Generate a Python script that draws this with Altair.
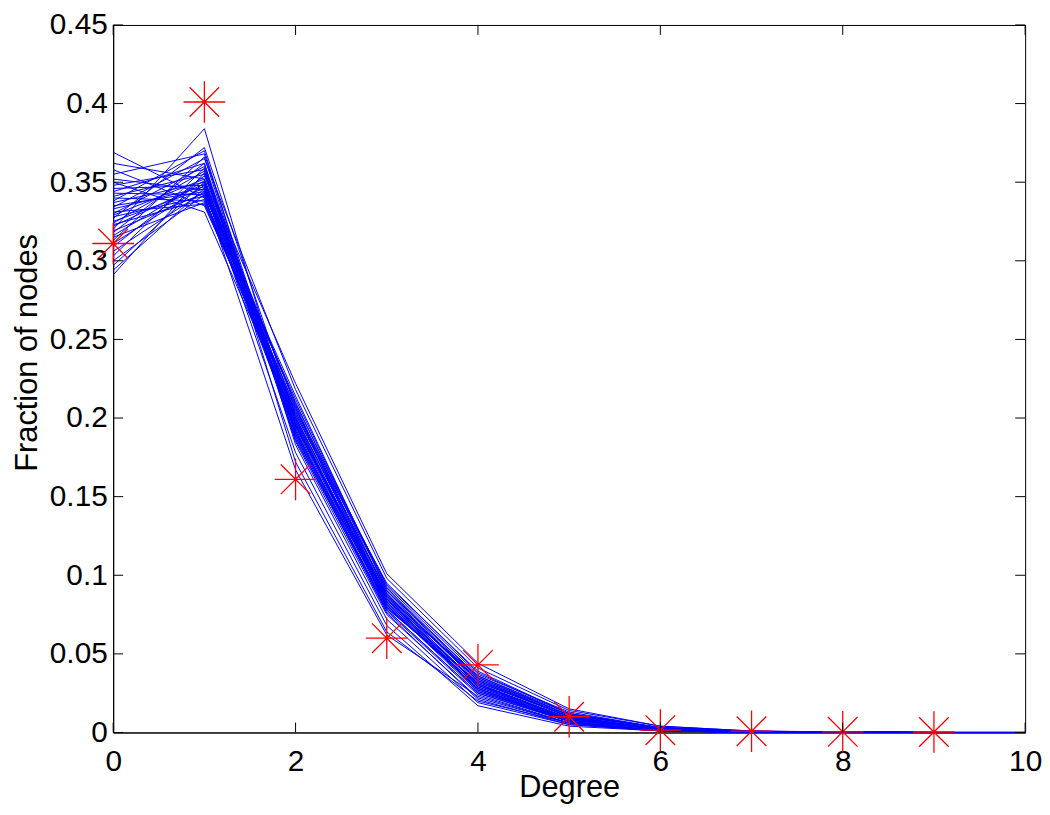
import altair as alt
import pandas as pd

degrees = list(range(11))

deg0 = [0.369, 0.362, 0.358, 0.355, 0.352, 0.350, 0.348, 0.346, 0.344, 0.343,
        0.341, 0.340, 0.338, 0.337, 0.335, 0.334, 0.333, 0.331, 0.330, 0.329,
        0.328, 0.327, 0.325, 0.324, 0.323, 0.322, 0.320, 0.319, 0.318, 0.316,
        0.315, 0.313, 0.311, 0.309, 0.306, 0.303, 0.300, 0.297, 0.294, 0.291]
deg1 = [0.340, 0.352, 0.335, 0.368, 0.345, 0.331, 0.358, 0.348, 0.362, 0.342,
        0.355, 0.338, 0.370, 0.350, 0.344, 0.365, 0.347, 0.336, 0.360, 0.352,
        0.341, 0.372, 0.346, 0.357, 0.339, 0.349, 0.384, 0.343, 0.362, 0.351,
        0.337, 0.366, 0.348, 0.354, 0.344, 0.359, 0.342, 0.350, 0.346, 0.356]
deg2 = [0.195, 0.188, 0.205, 0.192, 0.210, 0.199, 0.185, 0.202, 0.190, 0.214,
        0.197, 0.207, 0.183, 0.200, 0.193, 0.218, 0.196, 0.204, 0.187, 0.209,
        0.191, 0.201, 0.178, 0.198, 0.212, 0.194, 0.189, 0.206, 0.172, 0.199,
        0.203, 0.186, 0.196, 0.222, 0.192, 0.200, 0.167, 0.208, 0.195, 0.190]
deg3 = [0.085, 0.080, 0.092, 0.078, 0.088, 0.083, 0.075, 0.095, 0.082, 0.090,
        0.086, 0.079, 0.072, 0.087, 0.084, 0.098, 0.081, 0.089, 0.077, 0.093,
        0.083, 0.086, 0.068, 0.080, 0.091, 0.087, 0.076, 0.094, 0.064, 0.082,
        0.088, 0.079, 0.085, 0.101, 0.081, 0.090, 0.062, 0.084, 0.087, 0.078]
deg4 = [0.030, 0.028, 0.035, 0.025, 0.033, 0.031, 0.022, 0.038, 0.029, 0.034,
        0.027, 0.032, 0.019, 0.030, 0.036, 0.041, 0.026, 0.033, 0.024, 0.037,
        0.029, 0.031, 0.017, 0.028, 0.035, 0.034, 0.021, 0.039, 0.020, 0.027,
        0.032, 0.030, 0.026, 0.044, 0.028, 0.036, 0.023, 0.031, 0.033, 0.025]
deg5 = [0.009, 0.008, 0.011, 0.007, 0.010, 0.009, 0.006, 0.012, 0.008, 0.011,
        0.007, 0.010, 0.005, 0.009, 0.012, 0.014, 0.008, 0.010, 0.006, 0.013,
        0.009, 0.008, 0.004, 0.007, 0.011, 0.010, 0.005, 0.012, 0.006, 0.008,
        0.010, 0.009, 0.007, 0.015, 0.008, 0.011, 0.006, 0.009, 0.010, 0.007]
deg6 = [0.002, 0.002, 0.003, 0.001, 0.002, 0.002, 0.001, 0.003, 0.002, 0.003,
        0.001, 0.002, 0.001, 0.002, 0.003, 0.004, 0.002, 0.002, 0.001, 0.003,
        0.002, 0.002, 0.001, 0.001, 0.003, 0.002, 0.001, 0.003, 0.001, 0.002,
        0.002, 0.002, 0.001, 0.004, 0.002, 0.003, 0.001, 0.002, 0.002, 0.001]
deg7 = [0.0005, 0.0004, 0.0008, 0.0002, 0.0005, 0.0004, 0.0001, 0.0007, 0.0004, 0.0006,
        0.0002, 0.0005, 0.0001, 0.0004, 0.0007, 0.0010, 0.0003, 0.0005, 0.0002, 0.0006,
        0.0004, 0.0003, 0.0001, 0.0002, 0.0006, 0.0005, 0.0001, 0.0007, 0.0002, 0.0004,
        0.0005, 0.0003, 0.0002, 0.0009, 0.0004, 0.0006, 0.0001, 0.0004, 0.0005, 0.0002]
deg8 = [0.0001, 0.0001, 0.0002, 0.0000, 0.0001, 0.0001, 0.0000, 0.0002, 0.0001, 0.0001,
        0.0000, 0.0001, 0.0000, 0.0001, 0.0002, 0.0003, 0.0001, 0.0001, 0.0000, 0.0002,
        0.0001, 0.0001, 0.0000, 0.0000, 0.0001, 0.0001, 0.0000, 0.0002, 0.0000, 0.0001,
        0.0001, 0.0001, 0.0000, 0.0002, 0.0001, 0.0001, 0.0000, 0.0001, 0.0001, 0.0000]
deg9 = [0.0000] * 40
deg10 = [0.0000] * 40

star_degree = [0, 1, 2, 3, 4, 5, 6, 7, 8, 9]
star_value = [0.311, 0.401, 0.161, 0.060, 0.043, 0.010, 0.0015, 0.0008, 0.0004, 0.0003]

x_ticks = [0, 2, 4, 6, 8, 10]
y_ticks = [0, 0.05, 0.1, 0.15, 0.2, 0.25, 0.3, 0.35, 0.4, 0.45]

cols = [deg0, deg1, deg2, deg3, deg4, deg5, deg6, deg7, deg8, deg9, deg10]
rows = []
for run in range(len(deg0)):
    for d in degrees:
        rows.append({"run": run, "degree": d, "value": cols[d][run]})
runs_df = pd.DataFrame(rows)
stars_df = pd.DataFrame({"degree": star_degree, "value": star_value})
xt_df = pd.DataFrame({"t": x_ticks})
yt_df = pd.DataFrame({"t": y_ticks})

W, H = 919, 713
FONT = "Liberation Sans"

xscale = alt.Scale(domain=[0, 10], nice=False, zero=False)
yscale = alt.Scale(domain=[0, 0.45], nice=False, zero=False)

x_axis = alt.Axis(values=x_ticks, title="Degree", grid=False, tickSize=0,
                  format="~g", labelFont=FONT, labelFontSize=30, labelColor="black",
                  titleFont=FONT, titleFontSize=31, titleFontWeight="normal",
                  titleColor="black", labelPadding=14,
                  titleBaseline="alphabetic", titleY=65,
                  domainColor="black", labelFlush=False)
y_axis = alt.Axis(values=y_ticks, title="Fraction of nodes", grid=False, tickSize=0,
                  format="~g", labelFont=FONT, labelFontSize=30, labelColor="black",
                  titleFont=FONT, titleFontSize=31, titleFontWeight="normal",
                  titleColor="black", labelPadding=6,
                  titleBaseline="alphabetic", titleX=-77, titleY=330,
                  domainColor="black", labelFlush=False)

lines = alt.Chart(runs_df).mark_line(color="#0000FF", strokeWidth=1).encode(
    x=alt.X("degree:Q", scale=xscale, axis=x_axis),
    y=alt.Y("value:Q", scale=yscale, axis=y_axis),
    detail="run:N",
)

asterisk = "M-1,0L1,0M0,-1L0,1M-0.71,-0.71L0.71,0.71M-0.71,0.71L0.71,-0.71"
stars = alt.Chart(stars_df).mark_point(
    shape=asterisk, size=1764, filled=False, color="#FF0000", strokeWidth=1.3, opacity=1
).encode(
    x=alt.X("degree:Q", scale=xscale),
    y=alt.Y("value:Q", scale=yscale),
)

tick_len = 10
xt_bottom = alt.Chart(xt_df).mark_rule(color="black", strokeWidth=1).encode(
    x=alt.X("t:Q", scale=xscale), y=alt.value(H), y2=alt.value(H - tick_len))
xt_top = alt.Chart(xt_df).mark_rule(color="black", strokeWidth=1).encode(
    x=alt.X("t:Q", scale=xscale), y=alt.value(0), y2=alt.value(tick_len))
yt_left = alt.Chart(yt_df).mark_rule(color="black", strokeWidth=1).encode(
    y=alt.Y("t:Q", scale=yscale), x=alt.value(0), x2=alt.value(tick_len))
yt_right = alt.Chart(yt_df).mark_rule(color="black", strokeWidth=1).encode(
    y=alt.Y("t:Q", scale=yscale), x=alt.value(W), x2=alt.value(W - tick_len))

chart = alt.layer(lines, stars, xt_bottom, xt_top, yt_left, yt_right).properties(
    width=W, height=H,
    autosize=alt.AutoSizeParams(type="none"),
    padding={"left": 106, "top": 14, "right": 17, "bottom": 72},
    background="white",
).configure_view(stroke="black", strokeWidth=1)

chart.save("out.html", embed_options={"renderer": "svg", "actions": False})
